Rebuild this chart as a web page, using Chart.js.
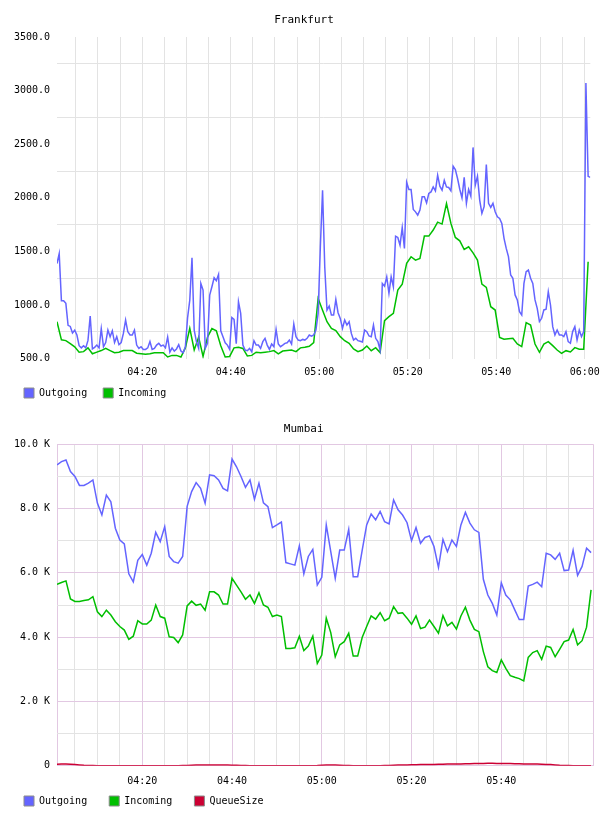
<!DOCTYPE html>
<html><head><meta charset="utf-8">
<script src="https://cdn.jsdelivr.net/npm/chart.js@4.4.1/dist/chart.umd.min.js"></script>
<style>
html,body{margin:0;padding:0;background:#fff;overflow:hidden;width:608px;height:816px}
canvas{position:absolute;left:0}
#c1{top:0}
#c2{top:408px}
</style></head><body>
<canvas id="c1" width="608" height="408"></canvas>
<canvas id="c2" width="608" height="408"></canvas>
<script>
const FONT = 'DejaVu Sans Mono';

// ---------- Frankfurt ----------
const frankTitle = 'Frankfurt';
const frankStartMin = 0.75;      // minutes after 04:00
const frankOutStepMin = 0.5;
const frankInStepMin = 1;
const frankOutgoing = [
 1387,1480,1040,1040,1015,810,800,740,765,720,
 620,600,620,600,670,897,590,605,626,600,
 780,610,650,766,704,760,650,704,630,650,
 735,859,750,720,720,766,626,595,611,586,
 586,600,660,585,595,626,642,617,626,600,
 700,560,600,570,590,630,570,555,610,880,
 1046,1440,766,658,596,1201,1139,596,642,1092,
 1170,1254,1226,1285,760,704,648,626,586,884,
 866,640,1030,922,626,580,574,595,564,667,
 626,626,595,658,689,626,586,636,611,772,
 636,611,626,642,648,673,636,822,704,673,
 667,679,673,689,720,710,720,766,922,1543,
 2070,1350,953,990,906,906,1052,928,875,782,
 860,813,844,735,673,689,667,661,655,766,
 751,711,704,813,689,658,580,1201,1176,1263,
 1108,1263,1170,1642,1630,1558,1723,1527,2145,2077,
 2077,1891,1869,1838,1885,2009,2009,1953,2040,2055,
 2102,2065,2211,2108,2071,2164,2102,2096,2065,2295,
 2263,2180,2080,2000,2190,1948,2078,2016,2470,2118,
 2202,1979,1854,1917,2311,1948,1910,1948,1870,1823,
 1808,1761,1622,1528,1451,1280,1249,1094,1047,938,
 907,1202,1311,1326,1249,1202,1047,969,845,876,
 954,960,1125,1000,798,721,767,721,721,705,
 752,659,643,752,798,674,767,705,752,3070,
 2200,2190
];
const frankIncoming = [
 844,675,668,640,610,560,565,600,545,560,
 575,595,575,555,560,575,575,575,550,545,
 540,545,555,555,555,515,530,530,515,600,
 782,580,700,520,700,780,760,620,515,520,
 600,605,595,525,530,560,555,560,565,575,
 545,570,575,580,565,600,605,615,650,1060,
 950,844,782,761,705,667,643,590,565,580,
 618,574,602,556,854,891,922,1140,1195,1388,
 1450,1419,1435,1643,1643,1699,1773,1755,1947,1761,
 1630,1599,1518,1543,1487,1419,1195,1164,984,953,
 698,680,686,689,636,612,835,813,636,559,
 636,658,621,580,549,574,562,602,587,587,
 1403
];
const frankYMin = 500, frankYMax = 3500;

// ---------- Mumbai ----------
const mumbaiTitle = 'Mumbai';
const mumbaiStartMin = 1;
const mumbaiStepMin = 1;
const mumbaiOutgoing = [
 9360,9460,9510,9150,9000,8720,8720,8790,8890,8170,
 7800,8420,8210,7390,7020,6900,5970,5720,6390,6570,
 6240,6610,7260,6970,7440,6510,6350,6300,6510,8070,
 8530,8810,8630,8170,9050,9020,8890,8630,8550,9540,
 9300,9000,8660,8890,8290,8790,8180,8060,7410,7490,
 7580,6320,6280,6240,6840,5970,6510,6730,5620,5860,
 7490,6660,5830,6710,6710,7350,5880,5880,6700,7490,
 7830,7650,7910,7590,7520,8270,7960,7800,7560,7000,
 7410,6920,7100,7150,6820,6170,7040,6660,7020,6820,
 7490,7880,7550,7340,7260,5800,5310,5050,4690,5690,
 5310,5160,4850,4550,4550,5590,5640,5710,5570,6610,
 6560,6420,6610,6070,6090,6700,5920,6200,6770,6630
];
const mumbaiIncoming = [
 5640,5700,5750,5190,5110,5110,5140,5160,5260,4790,
 4640,4840,4690,4480,4330,4220,3930,4030,4510,4410,
 4410,4530,5000,4640,4590,4010,3990,3830,4070,4970,
 5120,4990,5030,4840,5410,5410,5310,5030,5030,5830,
 5620,5410,5180,5310,5050,5380,5000,4930,4640,4690,
 4640,3650,3650,3670,4030,3580,3720,4030,3180,3440,
 4590,4140,3390,3760,3860,4120,3410,3410,3990,4330,
 4660,4560,4760,4510,4590,4950,4740,4760,4590,4400,
 4660,4270,4310,4530,4330,4120,4670,4350,4460,4250,
 4660,4930,4530,4240,4170,3550,3080,2960,2900,3290,
 3030,2800,2750,2710,2640,3370,3520,3580,3310,3720,
 3680,3390,3620,3860,3910,4240,3760,3890,4310,5470
];
const mumbaiQueueSize = [
 45,50,50,45,35,25,15,10,5,2,
 0,0,0,0,0,0,0,0,0,0,
 0,0,0,0,0,0,0,0,5,10,
 15,20,25,25,20,20,25,25,20,15,
 15,10,5,2,0,0,0,0,0,0,
 0,0,0,0,0,0,0,0,5,15,
 20,20,20,15,10,5,2,0,0,0,
 0,0,0,5,10,15,20,20,25,30,
 30,35,35,40,40,45,45,50,50,55,
 55,60,60,65,70,70,75,75,70,70,
 65,65,60,60,55,55,50,50,45,40,
 35,25,15,10,5,2,0,0,0,0
];
const mumbaiYMin = 0, mumbaiYMax = 10000;

const BLUE = '#6464ff', GREEN = '#00bf00', RED = '#cc0033';
const GRID = '#e3e3e3', PURPLE = '#e2c8e2';

function fmtTime(m){
  const h = 4 + Math.floor(m/60), mm = m % 60;
  return String(h).padStart(2,'0') + ':' + String(mm).padStart(2,'0');
}
function series(vals, start, step){ return vals.map((v,i)=>({x:start+i*step, y:v})); }
function range(a,b,s){ const r=[]; for(let v=a; v<=b+1e-9; v+=s) r.push(v); return r; }
function legendLabels(width){
  return chart => chart.data.datasets.map((ds,i)=>({
    text: ds.label.padEnd(width,' '), fillStyle: ds.borderColor, strokeStyle:'#8c8c8c',
    lineWidth:1, hidden:false, datasetIndex:i, fontColor:'#000'
  }));
}
function lineDs(label, data, color){
  return {label, data, borderColor:color, backgroundColor:color, borderWidth:1.5,
    pointRadius:0, fill:false, tension:0};
}
const tickFont = {family:FONT, size:10};

new Chart(document.getElementById('c1'), {
  type:'line',
  data:{datasets:[
    lineDs('Outgoing', series(frankOutgoing, frankStartMin, frankOutStepMin), BLUE),
    lineDs('Incoming', series(frankIncoming, frankStartMin, frankInStepMin), GREEN)
  ]},
  options:{
    responsive:false, animation:false, devicePixelRatio:1, events:[],
    layout:{padding:{left:14,right:14,top:0,bottom:0}},
    plugins:{
      title:{display:true, text:frankTitle, color:'#000', font:{family:FONT,size:11,weight:'normal'}, padding:{top:13.4,bottom:10.4}},
      legend:{position:'bottom', align:'start', labels:{boxWidth:10, boxHeight:10, padding:10, color:'#000', font:tickFont, generateLabels:legendLabels(9)}},
      tooltip:{enabled:false}
    },
    scales:{
      x:{type:'linear', min:frankStartMin, max:frankStartMin + (frankOutgoing.length-1)*frankOutStepMin,
        afterBuildTicks:s=>{ s.ticks = range(5,120,5).map(v=>({value:v})); },
        afterFit:s=>{ s.height = 19.4; },
        ticks:{autoSkip:false, maxRotation:0, minRotation:0, padding:8, color:'#000', font:tickFont,
          callback:v=> v%20===0 ? fmtTime(v) : ''},
        grid:{color:GRID, drawTicks:false, lineWidth:1},
        border:{display:false}},
      y:{min:frankYMin, max:frankYMax,
        afterBuildTicks:s=>{ s.ticks = range(frankYMin, frankYMax, 250).map(v=>({value:v})); },
        afterFit:s=>{ s.width = 43; },
        ticks:{autoSkip:false, padding:7, color:'#000', font:tickFont,
          callback:v=> v%500===0 ? v.toFixed(1) : ''},
        grid:{color:c=> (c.tick && c.tick.value%500===0) ? 'rgba(0,0,0,0)' : GRID, drawTicks:false, lineWidth:1},
        border:{display:false}}
    }
  }
});

const mXMin = mumbaiStartMin, mXMax = 120.5;
new Chart(document.getElementById('c2'), {
  type:'line',
  data:{datasets:[
    lineDs('Outgoing', series(mumbaiOutgoing, mumbaiStartMin, mumbaiStepMin), BLUE),
    lineDs('Incoming', series(mumbaiIncoming, mumbaiStartMin, mumbaiStepMin), GREEN),
    lineDs('QueueSize', series(mumbaiQueueSize, mumbaiStartMin, mumbaiStepMin), RED)
  ]},
  options:{
    responsive:false, animation:false, devicePixelRatio:1, events:[],
    layout:{padding:{left:14,right:14.7,top:0,bottom:0}},
    plugins:{
      title:{display:true, text:mumbaiTitle, color:'#000', font:{family:FONT,size:11,weight:'normal'}, padding:{top:14.4,bottom:8.7}},
      legend:{position:'bottom', align:'start', labels:{boxWidth:10, boxHeight:10, padding:10, color:'#000', font:tickFont, generateLabels:legendLabels(10)}},
      tooltip:{enabled:false}
    },
    scales:{
      x:{type:'linear', min:mXMin, max:mXMax,
        afterBuildTicks:s=>{ s.ticks = [mXMin].concat(range(5,115,5), [mXMax]).map(v=>({value:v})); },
        afterFit:s=>{ s.height = 20.3; },
        ticks:{autoSkip:false, maxRotation:0, minRotation:0, padding:10, color:'#000', font:tickFont,
          callback:v=> (v%20===0) ? fmtTime(v) : ''},
        grid:{color:c=>{ const v = c.tick ? c.tick.value : 0; return (v===mXMin || v===mXMax || v%20===0) ? PURPLE : GRID; }, drawTicks:false, lineWidth:1},
        border:{display:false}},
      y:{min:mumbaiYMin, max:mumbaiYMax,
        afterBuildTicks:s=>{ s.ticks = range(mumbaiYMin, mumbaiYMax, 1000).map(v=>({value:v})); },
        afterFit:s=>{ s.width = 43; },
        ticks:{autoSkip:false, padding:7, color:'#000', font:tickFont,
          callback:v=> v===0 ? '0' : (v%2000===0 ? (v/1000).toFixed(1)+' K' : '')},
        grid:{color:c=> (c.tick && c.tick.value%2000===0) ? PURPLE : GRID, drawTicks:false, lineWidth:1},
        border:{display:false}}
    }
  }
});
</script>
</body></html>
